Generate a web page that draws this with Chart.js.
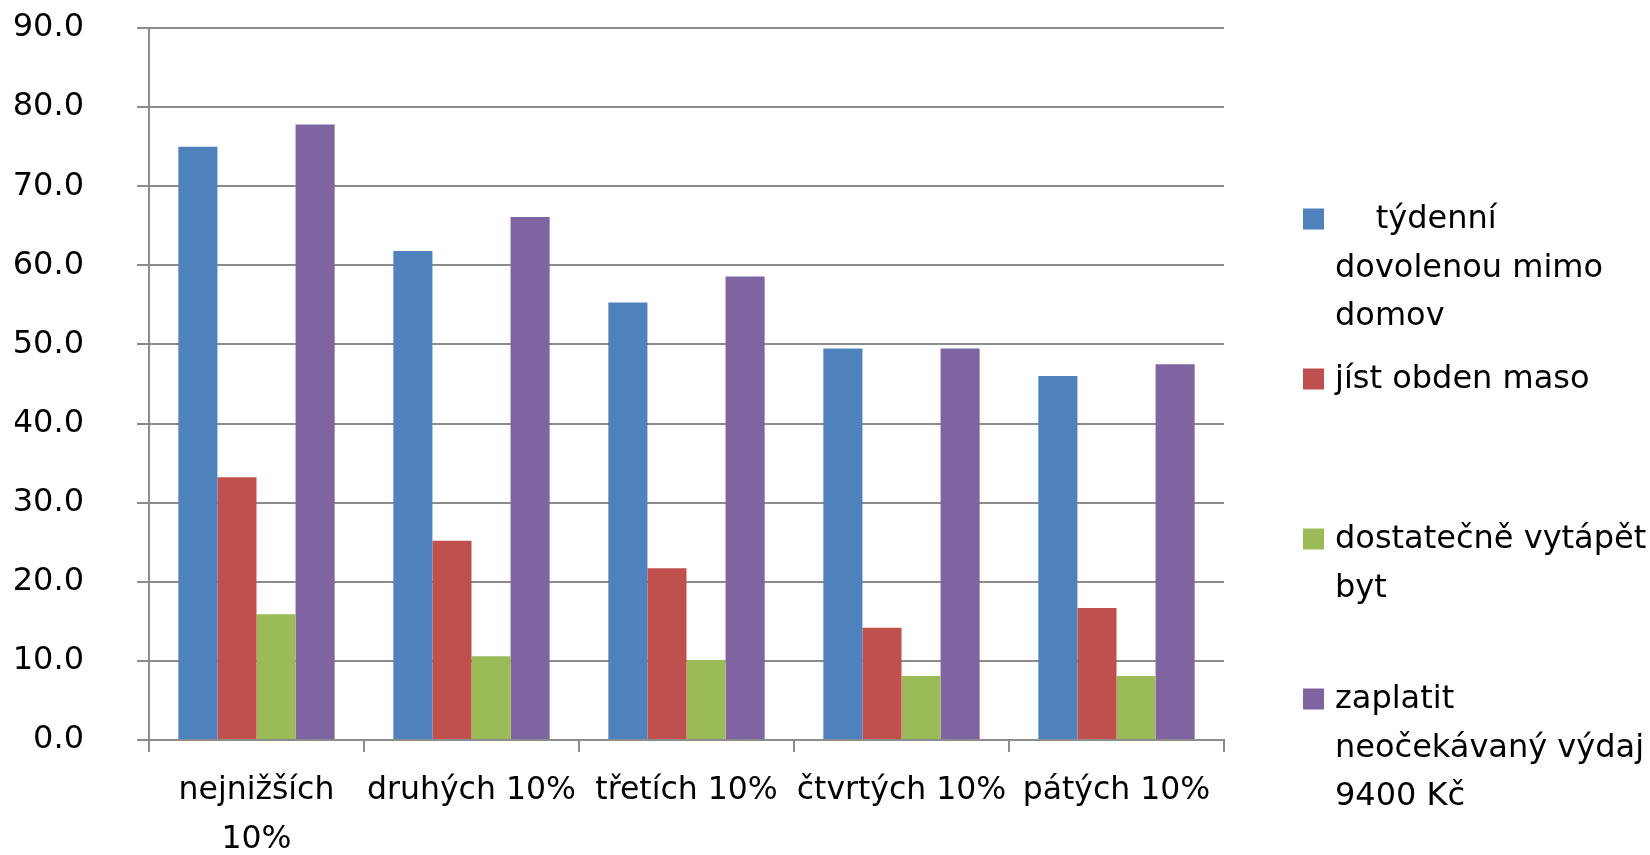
<!DOCTYPE html>
<html>
<head>
<meta charset="utf-8">
<script src="https://cdn.jsdelivr.net/npm/chart.js@4"></script>
<style>
    html, body { margin: 0; padding: 0; background: #fff; }
    #wrap { width: 1650px; height: 855px; position: relative; }
</style>
</head>
<body>
<div id="wrap"><canvas id="chart"></canvas></div>
<script>
const categories = [["nejnižších", "10%"], "druhých 10%", "třetích 10%", "čtvrtých 10%", "pátých 10%"];

const legendLines = [
    ["    týdenní", "dovolenou mimo", "domov"],
    ["jíst obden maso"],
    ["dostatečně vytápět", "byt"],
    ["zaplatit", "neočekávaný výdaj", "9400 Kč"]
];

const dovolena = [75.0, 61.8, 55.3, 49.5, 46.0];
const maso = [33.2, 25.2, 21.7, 14.2, 16.7];
const vytapet = [15.9, 10.6, 10.1, 8.1, 8.1];
const vydaj = [77.8, 66.1, 58.6, 49.5, 47.5];

const seriesColors = ["#4F81BD", "#C0504D", "#9BBB59", "#8064A2"];

const FONT = '"DejaVu Sans", Verdana, sans-serif';
const gridGray = '#8c8c8c';

// legend on the right, wrapped lines like the original
const sideLegend = {
    id: 'sideLegend',
    afterDraw(chart) {
        const ctx = chart.ctx;
        ctx.save();
        ctx.font = '32px ' + FONT;
        ctx.textBaseline = 'middle';
        ctx.textAlign = 'left';
        chart.data.datasets.forEach((ds, i) => {
            const y = 219 + i * 160;
            ctx.fillStyle = ds.backgroundColor;
            ctx.fillRect(1303, y - 10.5, 21, 21);
            ctx.fillStyle = '#000';
            legendLines[i].forEach((line, j) => {
                ctx.fillText(line, 1335, y + 1 + j * 48.4);
            });
        });
        ctx.restore();
    }
};

const allSeries = [dovolena, maso, vytapet, vydaj];

new Chart(document.getElementById('chart').getContext('2d'), {
    type: 'bar',
    data: {
        labels: categories,
        datasets: allSeries.map((values, i) => ({
            label: legendLines[i].join(' ').trim(),
            data: values,
            backgroundColor: seriesColors[i],
            borderWidth: 0,
            barPercentage: 1.0,
            categoryPercentage: 0.727
        }))
    },
    options: {
        responsive: true,
        maintainAspectRatio: false,
        animation: false,
        layout: {
            padding: { top: 28, left: 15, right: 426, bottom: 0 }
        },
        plugins: {
            legend: { display: false },
            tooltip: { enabled: false }
        },
        scales: {
            x: {
                grid: {
                    offset: true,
                    drawOnChartArea: false,
                    drawTicks: true,
                    tickLength: 12,
                    color: gridGray,
                    lineWidth: 2
                },
                border: { display: true, color: gridGray, width: 2 },
                ticks: {
                    color: '#000',
                    padding: 15,
                    maxRotation: 0,
                    autoSkip: false,
                    font: { family: FONT, size: 31.5, lineHeight: 1.54 }
                },
                afterFit(scale) { scale.height = 115; }
            },
            y: {
                min: 0,
                max: 90,
                grid: {
                    drawTicks: true,
                    tickLength: 12,
                    color: gridGray,
                    lineWidth: 2
                },
                border: { display: true, color: gridGray, width: 2 },
                ticks: {
                    stepSize: 10,
                    color: '#000',
                    padding: 53,
                    font: { family: FONT, size: 32 },
                    callback: v => v.toFixed(1)
                },
                afterFit(scale) {
                    scale.width = 134;
                    // big label padding should not push the plot down
                    scale.paddingTop = 0;
                    scale.paddingBottom = 0;
                }
            }
        }
    },
    plugins: [sideLegend]
});
</script>
</body>
</html>
